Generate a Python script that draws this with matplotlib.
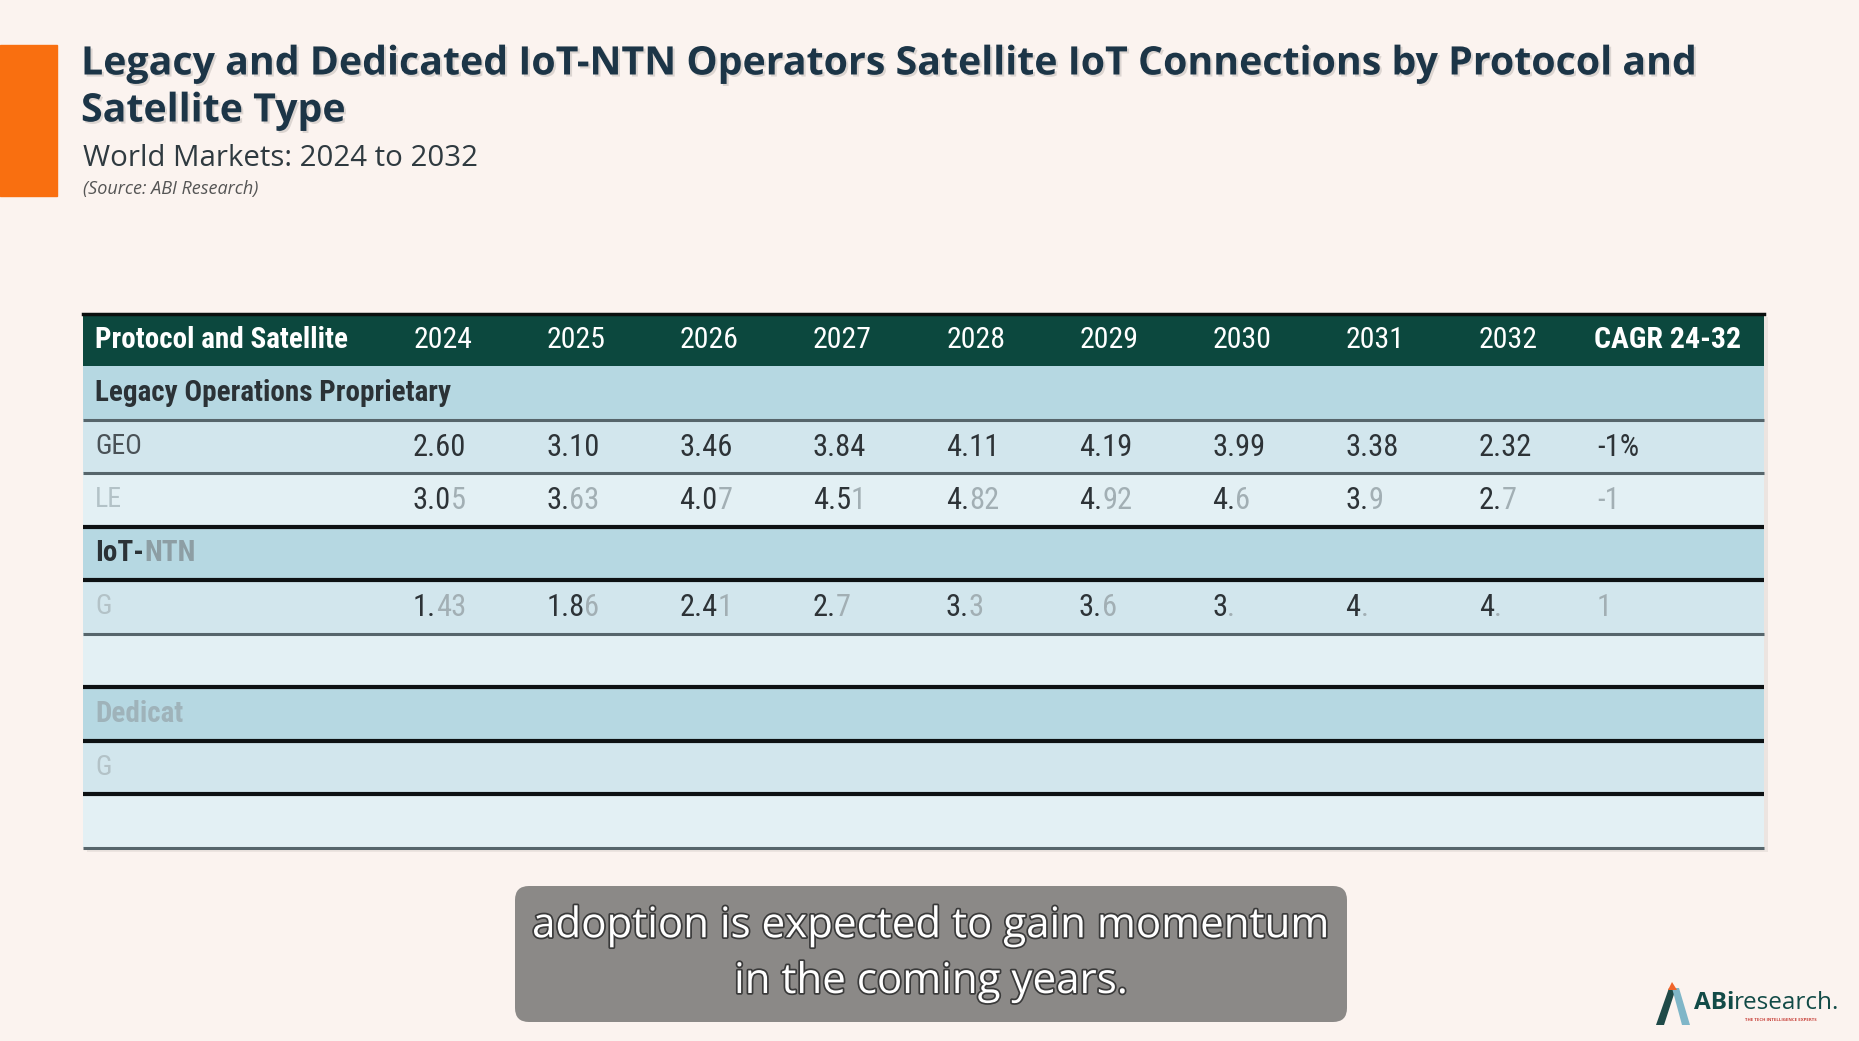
import os
import matplotlib.pyplot as plt
from matplotlib import font_manager as fm
from matplotlib.patches import Rectangle, FancyBboxPatch, Polygon
import matplotlib.patheffects as pe

# ---- chart text / data ----
title_lines = ["Legacy and Dedicated IoT-NTN Operators Satellite IoT Connections by Protocol and",
               "Satellite Type"]
subtitle = "World Markets: 2024 to 2032"
source = "(Source: ABI Research)"

header_label = "Protocol and Satellite"
header_cols = ['2024', '2025', '2026', '2027', '2028', '2029', '2030', '2031', '2032', 'CAGR 24-32']

# value rows as seen in the frame (text still fading in: ndark = fully shown chars)
geo_vals = ['2.60', '3.10', '3.46', '3.84', '4.11', '4.19', '3.99', '3.38', '2.32', '-1%']
leo_vals = ['3.05', '3.63', '4.07', '4.51', '4.82', '4.92', '4.6', '3.9', '2.7', '-1']
leo_dark = [3, 2, 3, 3, 2, 2, 2, 2, 2, 0]
ntn_vals = ['1.43', '1.86', '2.41', '2.7', '3.3', '3.6', '3.', '4.', '4.', '1']
ntn_dark = [2, 3, 3, 2, 2, 2, 1, 1, 1, 0]

# (kind, label, label_dark_chars, values, value_dark_chars)
rows = [
    ('section', 'Legacy Operations Proprietary', 99, None, None),
    ('data', 'GEO', 99, geo_vals, [99]*10),
    ('data2', 'LE', 0, leo_vals, leo_dark),
    ('section', 'IoT-NTN', 4, None, None),
    ('data', 'G', 0, ntn_vals, ntn_dark),
    ('data2', '', 0, None, None),
    ('section_f', 'Dedicat', 0, None, None),
    ('data', 'G', 0, None, None),
    ('data2', '', 0, None, None),
]

caption = ["adoption is expected to gain momentum", "in the coming years."]


# pick a condensed face for the table if one is installed
def pick_condensed(bold):
    best, best_score = None, -1
    for f in fm.fontManager.ttflist:
        fn = os.path.basename(f.fname).lower()
        if not ('condensed' in fn or 'narrow' in fn):
            continue
        if any(s in fn for s in ('italic', 'oblique', 'light', 'thin', 'medium', 'black',
                                 'semibold', 'extrabold', 'mono')):
            continue
        if ('bold' in fn) != bold:
            continue
        if 'semicondensed' in fn:
            score = 2
        elif 'extracondensed' in fn:
            score = 3
        else:
            score = 4
        for k, fam in enumerate(['dejavu', 'noto', 'opensans', 'open', 'roboto', 'liberation']):
            if fam in fn:
                score += 10 * (k + 1)
        if score > best_score:
            best, best_score = f.fname, score
    if best:
        return fm.FontProperties(fname=best)
    return fm.FontProperties(family='Roboto', weight='bold' if bold else 'normal')


FP_REG = pick_condensed(False)
FP_BOLD = pick_condensed(True)

# ---- style ----
BG = '#fbf3ef'
HEAD = '#0c483e'
FILL = {'section': '#b6d8e2', 'section_f': '#b6d8e2', 'data': '#d2e6ed', 'data2': '#e3f0f4'}

W, H = 1859, 1041
fig = plt.figure(figsize=(W / 100, H / 100), dpi=100, facecolor=BG)
ax = fig.add_axes([0, 0, 1, 1])
ax.set_xlim(0, W)
ax.set_ylim(H, 0)
ax.axis('off')

# orange accent bar
ax.add_patch(Rectangle((0, 45), 57, 151, color='#f96f10', zorder=2))

shadow = [pe.withSimplePatchShadow(offset=(1.5, -1.5), shadow_rgbFace='#000000', alpha=0.12)]
for k, line in enumerate(title_lines):
    ax.text(81, 64 + 47 * k, line, fontsize=28.3, fontweight='bold', color='#1c3547',
            family='Open Sans', va='center', path_effects=shadow)
ax.text(83, 158, subtitle, fontsize=21.2, color='#2f3a40', family='Open Sans', va='center')
ax.text(83, 189, source, fontsize=13, color='#555555', family='Open Sans', style='italic',
        va='center')

# ---- table ----
x0, x1 = 83, 1764
head_top, head_bot = 313, 366
row_h = 53.5
lab_x = 95
col_left = [413 + 133.2 * i for i in range(9)] + [1597]
col_mid = [443 + 133.2 * i for i in range(9)] + [1668]

ax.add_patch(Rectangle((x0 + 4, head_top + 4), x1 - x0, head_bot - head_top + row_h * len(rows),
                       color='#000000', alpha=0.06, zorder=1, lw=0))
ax.add_patch(Rectangle((x0, head_top), x1 - x0, head_bot - head_top, color=HEAD, zorder=2, lw=0))
ax.plot([x0, x1], [head_top + 1, head_top + 1], color='#0a0f0e', lw=2.5, zorder=3)
ax.text(lab_x, (head_top + head_bot) / 2, header_label, fontproperties=FP_BOLD, fontsize=21,
        color='white', va='center', ha='left', zorder=4)
for cx, lab in zip(col_mid, header_cols):
    ax.text(cx, (head_top + head_bot) / 2 + 1, lab, fontsize=21.5, color='white',
            fontproperties=FP_BOLD if lab.startswith('CAGR') else FP_REG,
            va='center', ha='center', zorder=4)


def draw_cell(x, y, text, ndark, dark, light, fp, size):
    if not text:
        return
    a, b = text[:ndark], text[ndark:]
    kw = dict(fontproperties=fp, fontsize=size, va='center', ha='left', zorder=5)
    if a:
        t = ax.text(x, y, a, color=dark, **kw)
        if b:
            ax.annotate(b, xy=(1, 0.5), xycoords=t, color=light, **kw)
    else:
        ax.text(x, y, b, color=light, **kw)


top = head_bot
for i, (kind, label, ldark, vals, vdark) in enumerate(rows):
    y_top = top + i * row_h
    y_mid = y_top + row_h / 2
    ax.add_patch(Rectangle((x0, y_top), x1 - x0, row_h, color=FILL[kind], zorder=2, lw=0))
    if kind.startswith('section'):
        lc = '#9fb3ba' if kind == 'section_f' else '#8d9ea4'
        draw_cell(lab_x, y_mid, label, ldark, '#2b3236', lc, FP_BOLD, 21)
    else:
        draw_cell(lab_x, y_mid, label, ldark, '#4a5257', '#b3c2c7', FP_REG, 20)
    if vals:
        for cx, v, nd in zip(col_left, vals, vdark):
            draw_cell(cx, y_mid + 1, v, nd, '#2d3337', '#a2afb4', FP_REG, 22)
    # separators
    if i in (0, 1, 4, len(rows) - 1):
        c, w = '#56656b', 2.2
    else:
        c, w = '#0d1113', 3.0
    ax.plot([x0, x1], [y_top + row_h, y_top + row_h], color=c, lw=w, zorder=3,
            solid_capstyle='butt')

# ---- caption box ----
ax.add_patch(FancyBboxPatch((515, 886), 832, 136, boxstyle='round,pad=0,rounding_size=14',
                            facecolor='#8b8987', edgecolor='none', zorder=6))
cap_fx = [pe.withStroke(linewidth=2.5, foreground='#3a3a3a')]
for k, line in enumerate(caption):
    ax.text(931, 926 + k * 56, line, fontsize=30.3, color='white', family='Open Sans',
            ha='center', va='center', zorder=7, path_effects=cap_fx)

# ---- logo ----
ax.add_patch(Polygon([[1656, 1025], [1669, 988], [1676, 988], [1664, 1025]],
                     closed=True, color='#1f4a48', zorder=6, lw=0))
ax.add_patch(Polygon([[1672, 988], [1679, 988], [1690, 1025], [1682, 1025]],
                     closed=True, color='#7fb6c8', zorder=6, lw=0))
ax.add_patch(Polygon([[1668, 990], [1672, 982], [1677, 990]],
                     closed=True, color='#f0642a', zorder=7, lw=0))
t_abi = ax.text(1694, 1009, 'ABi', fontsize=17.5, fontweight='bold', color='#124b47',
                family='Open Sans', va='baseline', ha='left', zorder=6)
ax.annotate('research.', xy=(1, 0), xycoords=t_abi, fontsize=17.5, color='#124b47',
            family='Open Sans', va='bottom', ha='left', zorder=6)
ax.text(1745, 1020, 'THE TECH INTELLIGENCE EXPERTS', fontsize=3.2, color='#c8413a',
        family='Open Sans', fontweight='bold', va='center', ha='left', zorder=6)

fig.savefig('out.png', dpi=100, facecolor=BG)
